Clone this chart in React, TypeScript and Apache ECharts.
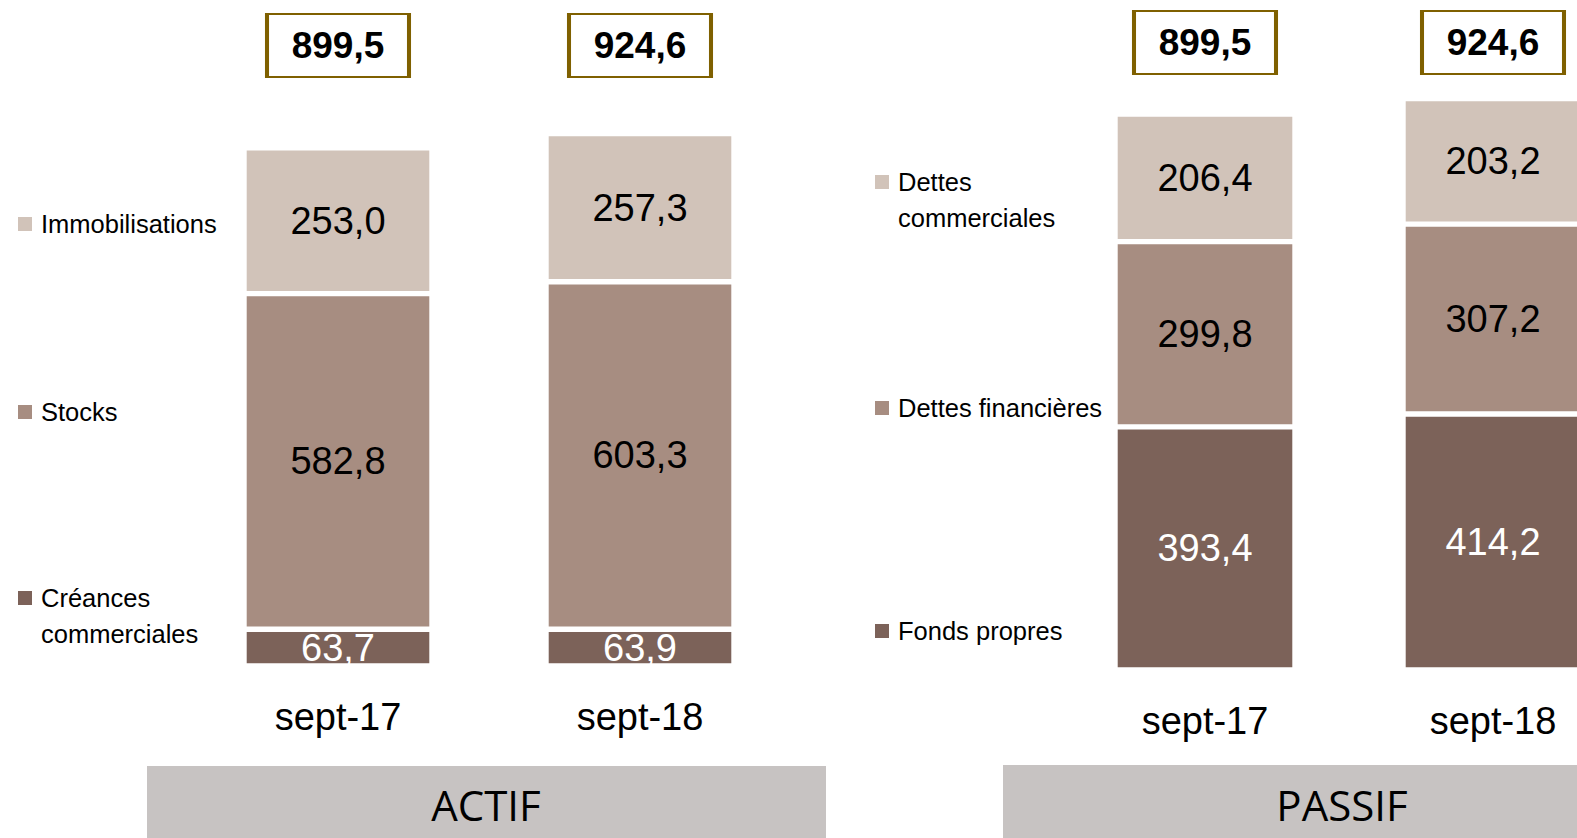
import React, { useEffect, useRef } from "react";
import * as echarts from "echarts";

// ---- Data ----
const categories = ["sept-17", "sept-18"];

const actifNames = ["Créances commerciales", "Stocks", "Immobilisations"];
const creancesCommerciales = [63.7, 63.9];
const stocks = [582.8, 603.3];
const immobilisations = [253.0, 257.3];
const actifTotals = [899.5, 924.6];

const passifNames = ["Fonds propres", "Dettes financières", "Dettes commerciales"];
const fondsPropres = [393.4, 414.2];
const dettesFinancieres = [299.8, 307.2];
const dettesCommerciales = [206.4, 203.2];
const passifTotals = [899.5, 924.6];

const panelTitles = ["ACTIF", "PASSIF"];

// ---- Styles ----
const COLORS = ["#7C6259", "#A78D81", "#D1C3B9"];
const LABEL_COLORS = ["#FFFFFF", "#000000", "#000000"];
const NARROW = '"Liberation Sans Narrow", "Arial Narrow", "Liberation Sans", Arial, sans-serif';
const BANNER_FONT = '"Open Sans", "Noto Sans", sans-serif';

const fmt = (v: number) => v.toFixed(1).replace(".", ",");

export default function App() {
  const ref = useRef<HTMLDivElement>(null);

  useEffect(() => {
    if (!ref.current) return;
    const chart = echarts.init(ref.current, undefined, { renderer: "svg" });

    // layout: Actif zero line at y=666, 0.576 px/unit ; Passif zero at y=670, 0.618 px/unit
    const actifMax = 666 / 0.576;
    const passifMax = 670 / 0.618;
    const actifBoxLevel = (666 - 45.5) / 0.576;
    const passifBoxLevel = (670 - 42.5) / 0.618;

    const barSeries = (
      name: string,
      data: number[],
      idx: number,
      axis: number,
      stack: string,
      barWidth: number
    ) => ({
      type: "bar",
      name,
      data,
      stack,
      xAxisIndex: axis,
      yAxisIndex: axis,
      barWidth,
      clip: false,
      itemStyle: { color: COLORS[idx], borderColor: "#FFFFFF", borderWidth: 2.7 },
      label: {
        show: true,
        position: "inside",
        formatter: (p: any) => fmt(p.value),
        color: LABEL_COLORS[idx],
        fontFamily: NARROW,
        fontSize: 38,
      },
      emphasis: { disabled: true },
      silent: true,
    });

    const boxSeries = (totals: number[], level: number, axis: number) => ({
      type: "scatter",
      xAxisIndex: axis,
      yAxisIndex: axis,
      symbol: "rect",
      symbolSize: [142, 63],
      clip: false,
      z: 10,
      itemStyle: { color: "#FFFFFF", borderColor: "#7F6000", borderWidth: 2.7, opacity: 1 },
      label: {
        show: true,
        position: "inside",
        formatter: (p: any) => fmt(totals[p.dataIndex]),
        color: "#000000",
        fontFamily: NARROW,
        fontWeight: "bold",
        fontSize: 37,
      },
      data: categories.map((_, i) => [i, level]),
      emphasis: { disabled: true },
      silent: true,
    });

    const LH = 36;
    const legendFor = (name: string, left: number, cy: number) => {
      const twoLine = name.indexOf("commerciales") >= 0;
      return {
        data: [name],
        left,
        top: twoLine ? cy - 1.5 * LH : cy - 0.5 * LH,
        orient: "vertical",
        icon: "rect",
        itemWidth: 14,
        itemHeight: 14,
        padding: 0,
        selectedMode: false,
        itemStyle: { borderWidth: 0 },
        // two-line items: an empty first line keeps the marker level with the first text line
        formatter: (n: string) => (twoLine ? "\n" + n.replace(" ", "\n") : n),
        textStyle: {
          color: "#000000",
          fontFamily: NARROW,
          fontSize: 25.5,
          lineHeight: LH,
          padding: [0, 0, 0, 4],
        },
      };
    };

    const xAxisCommon = {
      type: "category",
      data: categories,
      boundaryGap: false,
      axisLine: { show: false },
      axisTick: { show: false },
      splitLine: { show: false },
      axisLabel: { color: "#000000", fontFamily: NARROW, fontSize: 38, margin: 32 },
    };
    const yAxisCommon = { type: "value", min: 0, show: false, splitLine: { show: false } };

    chart.setOption({
      animation: false,
      backgroundColor: "#FFFFFF",
      grid: [
        { left: 338, width: 302, top: 0, height: 666 },
        { left: 1205, width: 288, top: 0, height: 670 },
      ],
      xAxis: [
        { ...xAxisCommon, gridIndex: 0 },
        { ...xAxisCommon, gridIndex: 1 },
      ],
      yAxis: [
        { ...yAxisCommon, gridIndex: 0, max: actifMax },
        { ...yAxisCommon, gridIndex: 1, max: passifMax },
      ],
      legend: [
        legendFor(actifNames[2], 18, 224),
        legendFor(actifNames[1], 18, 412),
        legendFor(actifNames[0], 18, 598),
        legendFor(passifNames[2], 875, 182),
        legendFor(passifNames[1], 875, 408),
        legendFor(passifNames[0], 875, 631),
      ],
      series: [
        barSeries(actifNames[0], creancesCommerciales, 0, 0, "actif", 188),
        barSeries(actifNames[1], stocks, 1, 0, "actif", 188),
        barSeries(actifNames[2], immobilisations, 2, 0, "actif", 188),
        barSeries(passifNames[0], fondsPropres, 0, 1, "passif", 180),
        barSeries(passifNames[1], dettesFinancieres, 1, 1, "passif", 180),
        barSeries(passifNames[2], dettesCommerciales, 2, 1, "passif", 180),
        boxSeries(actifTotals, actifBoxLevel, 0),
        boxSeries(passifTotals, passifBoxLevel, 1),
      ],
      graphic: [
        { type: "rect", shape: { x: 147, y: 766, width: 679, height: 80 }, style: { fill: "#C7C3C2" }, silent: true },
        { type: "rect", shape: { x: 1003, y: 765, width: 700, height: 80 }, style: { fill: "#C7C3C2" }, silent: true },
        {
          type: "text",
          x: 486,
          y: 804,
          style: { text: panelTitles[0], fill: "#000000", fontFamily: BANNER_FONT, fontSize: 42, align: "center", verticalAlign: "middle" },
          silent: true,
        },
        {
          type: "text",
          x: 1342,
          y: 804,
          style: { text: panelTitles[1], fill: "#000000", fontFamily: BANNER_FONT, fontSize: 42, align: "center", verticalAlign: "middle" },
          silent: true,
        },
      ],
    });

    return () => chart.dispose();
  }, []);

  return (
    <div
      ref={ref}
      style={{ position: "fixed", left: 0, top: 0, width: 1577, height: 838, overflow: "hidden" }}
    />
  );
}
